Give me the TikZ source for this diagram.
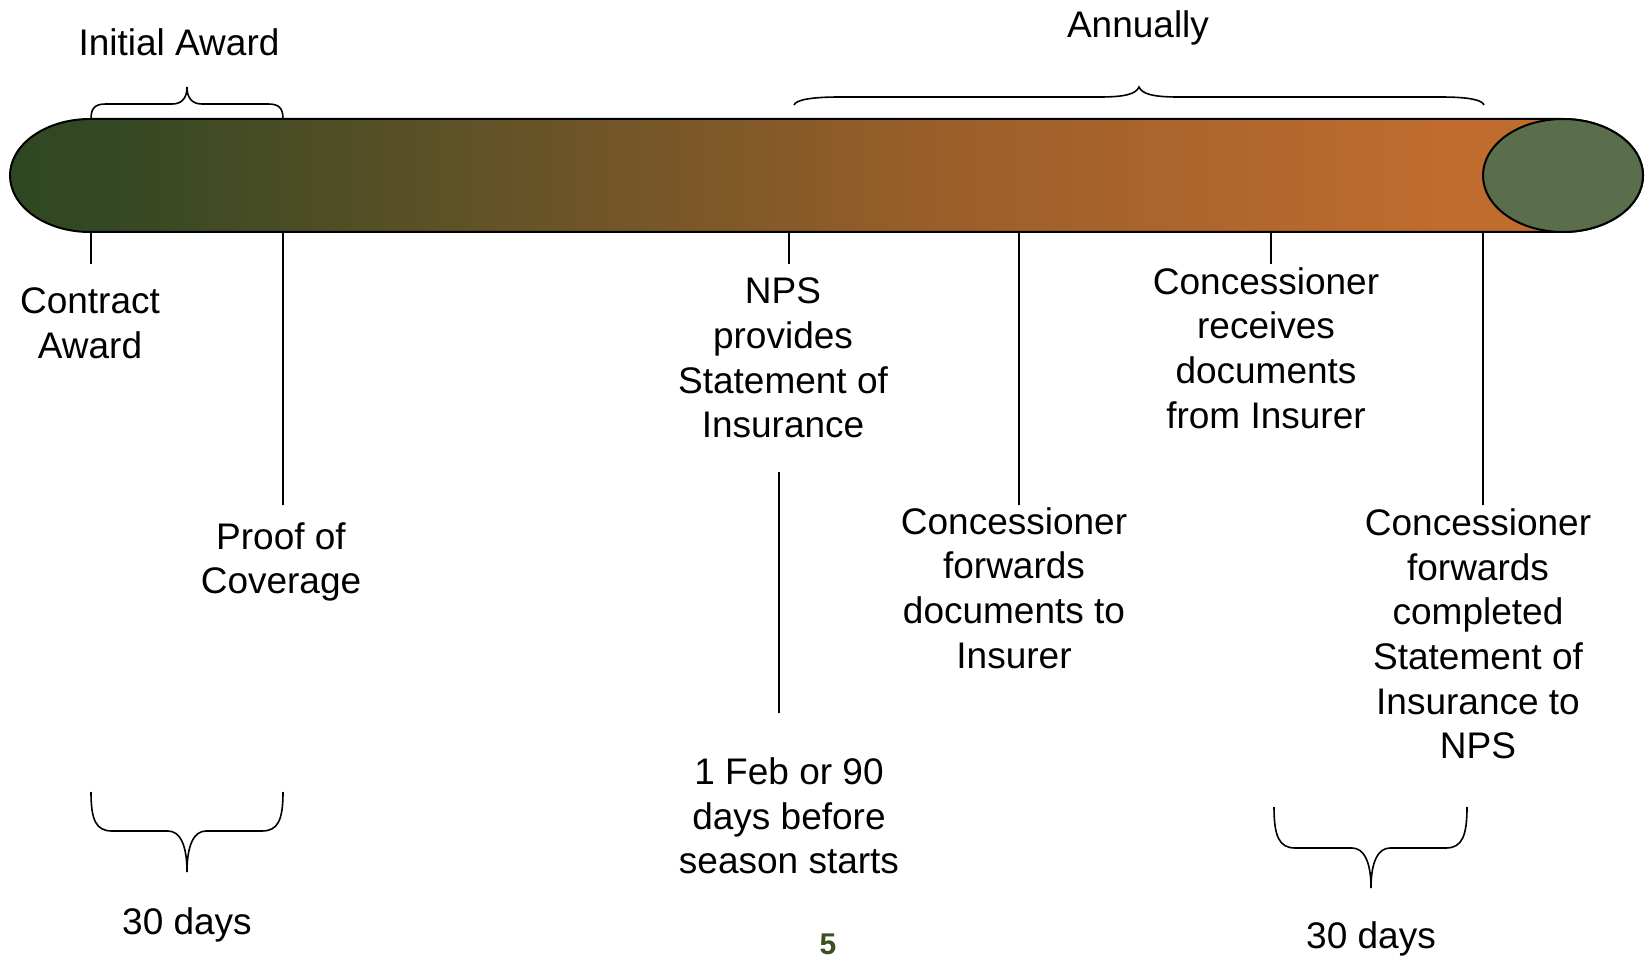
\documentclass[tikz,border=0pt]{standalone}
\usepackage{fontspec}
\setmainfont{Liberation Sans}
\definecolor{barA}{RGB}{46,72,34}
\definecolor{barB}{RGB}{52,72,36}
\definecolor{barC}{RGB}{156,95,42}
\definecolor{barD}{RGB}{192,108,46}
\definecolor{capfill}{RGB}{90,110,76}
\definecolor{pagenum}{RGB}{58,82,34}
\pgfdeclarehorizontalshading{barshade}{100bp}{color(0bp)=(barA); color(25bp)=(barA); color(28bp)=(barB); color(54bp)=(barC); color(69bp)=(barD); color(100bp)=(barD)}
\begin{document}
\begin{tikzpicture}[x=1pt,y=-1pt,
  lbl/.style={align=center, inner sep=0pt, font=\fontsize{37}{44.7}\selectfont},
  tick/.style={line width=1.6pt},
  brace/.style={line width=1.6pt}]
\useasboundingbox (0,0) rectangle (1649,957);
% bar
\draw[line width=2pt, shading=barshade]
  (90,119) -- (1563,119) arc[start angle=-90, end angle=90, x radius=80, y radius=56.5]
  -- (90,232) arc[start angle=90, end angle=270, x radius=80, y radius=56.5] -- cycle;
\draw[line width=2pt, fill=capfill] (1563,175.5) ellipse [x radius=80, y radius=56.5];
% coordinates
\coordinate (a1) at (91,232);  \coordinate (a2) at (91,264);
\coordinate (p1) at (283,232); \coordinate (p2) at (283,505);
\coordinate (n1) at (789,232); \coordinate (n2) at (789,264);
\coordinate (m1) at (779,472); \coordinate (m2) at (779,713);
\coordinate (f1) at (1019,232); \coordinate (f2) at (1019,505);
\coordinate (r1) at (1271,232); \coordinate (r2) at (1271,264);
\coordinate (c1) at (1483,232); \coordinate (c2) at (1483,505);
\draw[tick] (a1) -- (a2);
\draw[tick] (p1) -- (p2);
\draw[tick] (n1) -- (n2);
\draw[tick] (m1) -- (m2);
\draw[tick] (f1) -- (f2);
\draw[tick] (r1) -- (r2);
\draw[tick] (c1) -- (c2);
% top braces
\draw[brace] (91,119) .. controls (91,108) and (95,104) .. (106,104) -- (172,104)
  .. controls (182,104) and (187,98) .. (187,87)
  .. controls (187,98) and (192,104) .. (202,104) -- (268,104)
  .. controls (279,104) and (283,108) .. (283,119);
\draw[brace] (794,105) .. controls (796,100) and (810,97) .. (840,97) -- (1100,97)
  .. controls (1125,97) and (1136,94) .. (1139,87)
  .. controls (1142,94) and (1153,97) .. (1178,97) -- (1440,97)
  .. controls (1470,97) and (1482,100) .. (1484,105);
% bottom braces
\draw[brace] (91,792) .. controls (91,820) and (96,831) .. (112,831) -- (168,831)
  .. controls (180,831) and (187,845) .. (187,872)
  .. controls (187,845) and (194,831) .. (206,831) -- (262,831)
  .. controls (278,831) and (283,820) .. (283,792);
\draw[brace] (1274,807) .. controls (1274,836) and (1279,848) .. (1295,848) -- (1352,848)
  .. controls (1364,848) and (1371,862) .. (1371,888)
  .. controls (1371,862) and (1378,848) .. (1390,848) -- (1446,848)
  .. controls (1462,848) and (1467,836) .. (1467,807);
% labels
\node[lbl] (tInit) at (179,42) {Initial Award};
\node[lbl] (tAnn) at (1138,28) {Annually};
\node[lbl] (tCon) at (90,323) {Contract\\Award};
\node[lbl] (tProof) at (281,562) {Proof of\\Coverage};
\node[lbl] (tNPS) at (783,358) {NPS\\provides\\Statement of\\Insurance};
\node[lbl] (tFwd) at (1014,588) {Concessioner\\forwards\\documents to\\Insurer};
\node[lbl] (tRec) at (1266,348) {Concessioner\\receives\\documents\\from Insurer};
\node[lbl] (tComp) at (1478,634) {Concessioner\\forwards\\completed\\Statement of\\Insurance to\\NPS};
\node[lbl] (tFeb) at (789,816) {1 Feb or 90\\days before\\season starts};
\node[lbl] (tD1) at (187,925) {30 days};
\node[lbl] (tD2) at (1371,939) {30 days};
\node[inner sep=0pt, font=\fontsize{30}{36}\selectfont\bfseries, text=pagenum] (tPage) at (828,944) {5};
\end{tikzpicture}
\end{document}
